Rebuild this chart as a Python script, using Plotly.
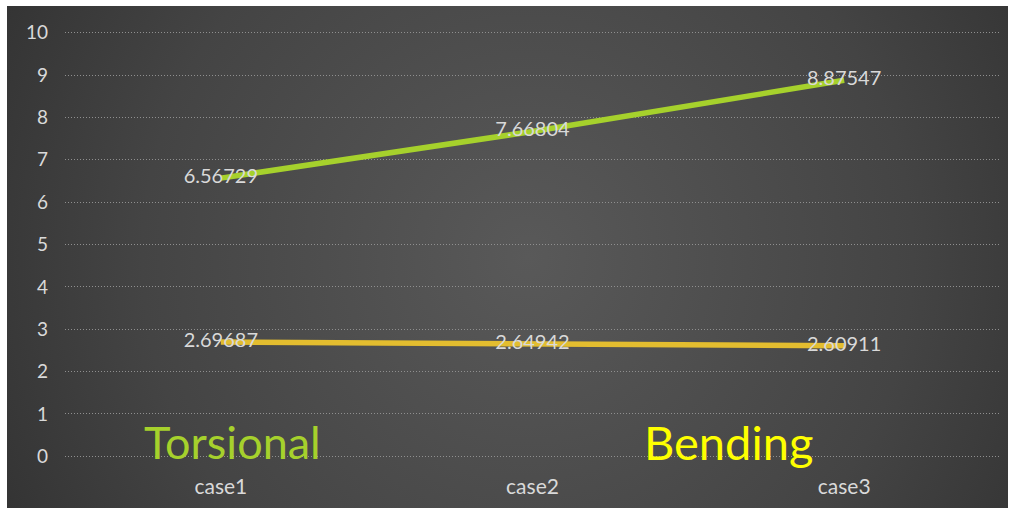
import base64
import plotly.graph_objects as go

categories = ["case1", "case2", "case3"]
torsional = [6.56729, 7.66804, 8.87547]
bending = [2.69687, 2.64942, 2.60911]
series_names = ["Torsional", "Bending"]
y_ticks = [0, 1, 2, 3, 4, 5, 6, 7, 8, 9, 10]

GREEN = "#a6d12c"
YELLOW = "#e3bd2f"
TXT = "#d9d9d9"
FONT = "Lato, 'DejaVu Sans', sans-serif"

svg = """<svg xmlns='http://www.w3.org/2000/svg' width='1000' height='500' preserveAspectRatio='none' viewBox='0 0 1000 500'>
<defs><radialGradient id='g' cx='0.52' cy='0.5' r='0.7' fx='0.52' fy='0.5' gradientTransform='translate(0.52 0.5) scale(1 2) translate(-0.52 -0.5)'>
<stop offset='0' stop-color='#595959'/><stop offset='0.55' stop-color='#444444'/><stop offset='1' stop-color='#2a2a2a'/></radialGradient></defs>
<rect width='1000' height='500' fill='url(#g)'/></svg>"""
bg_uri = "data:image/svg+xml;base64," + base64.b64encode(svg.encode()).decode()

fig = go.Figure()
fig.add_trace(go.Scatter(
    x=categories, y=torsional, mode="lines+text", name=series_names[0],
    line=dict(color=GREEN, width=5.5),
    text=[str(v) for v in torsional], textposition="middle center",
    textfont=dict(color=TXT, size=20, family=FONT), cliponaxis=False))
fig.add_trace(go.Scatter(
    x=categories, y=bending, mode="lines+text", name=series_names[1],
    line=dict(color=YELLOW, width=5.5),
    text=[str(v) for v in bending], textposition="middle center",
    textfont=dict(color=TXT, size=20, family=FONT), cliponaxis=False))

L, R, T, B = 65, 15, 31, 50
W, H = 1015, 508
pw, ph = W - L - R, H - T - B

fig.add_layout_image(dict(
    source=bg_uri, xref="paper", yref="paper",
    x=(7 - L) / pw, y=1 + (T - 6) / ph,
    sizex=(1008 - 7) / pw, sizey=(508 - 6) / ph,
    xanchor="left", yanchor="top", sizing="stretch", layer="below"))

fig.add_annotation(text=series_names[0], xref="paper", yref="paper",
                   x=(232 - L) / pw, y=(458 - 442) / ph, showarrow=False,
                   font=dict(color=GREEN, size=45, family=FONT),
                   xanchor="center", yanchor="middle")
fig.add_annotation(text=series_names[1], xref="paper", yref="paper",
                   x=(728 - L) / pw, y=(458 - 442) / ph, showarrow=False,
                   font=dict(color="#ffff00", size=47, family=FONT),
                   xanchor="center", yanchor="middle")

fig.update_layout(
    width=W, height=H,
    margin=dict(l=L, r=R, t=T, b=B),
    paper_bgcolor="white", plot_bgcolor="rgba(0,0,0,0)",
    showlegend=False,
    xaxis=dict(type="category", range=[-0.5, 2.5], showgrid=False, zeroline=False,
               showline=False, ticks="", tickfont=dict(color=TXT, size=21, family=FONT),
               ticklabelstandoff=14, automargin=False),
    yaxis=dict(range=[-0.04, 10.04], tickvals=y_ticks, showgrid=True, gridcolor="#8f8f8f",
               griddash="1px,2px", gridwidth=1, zeroline=False, showline=False, ticks="",
               tickfont=dict(color=TXT, size=19, family=FONT), ticklabelstandoff=16,
               automargin=False),
)

fig.write_html("out.html")
